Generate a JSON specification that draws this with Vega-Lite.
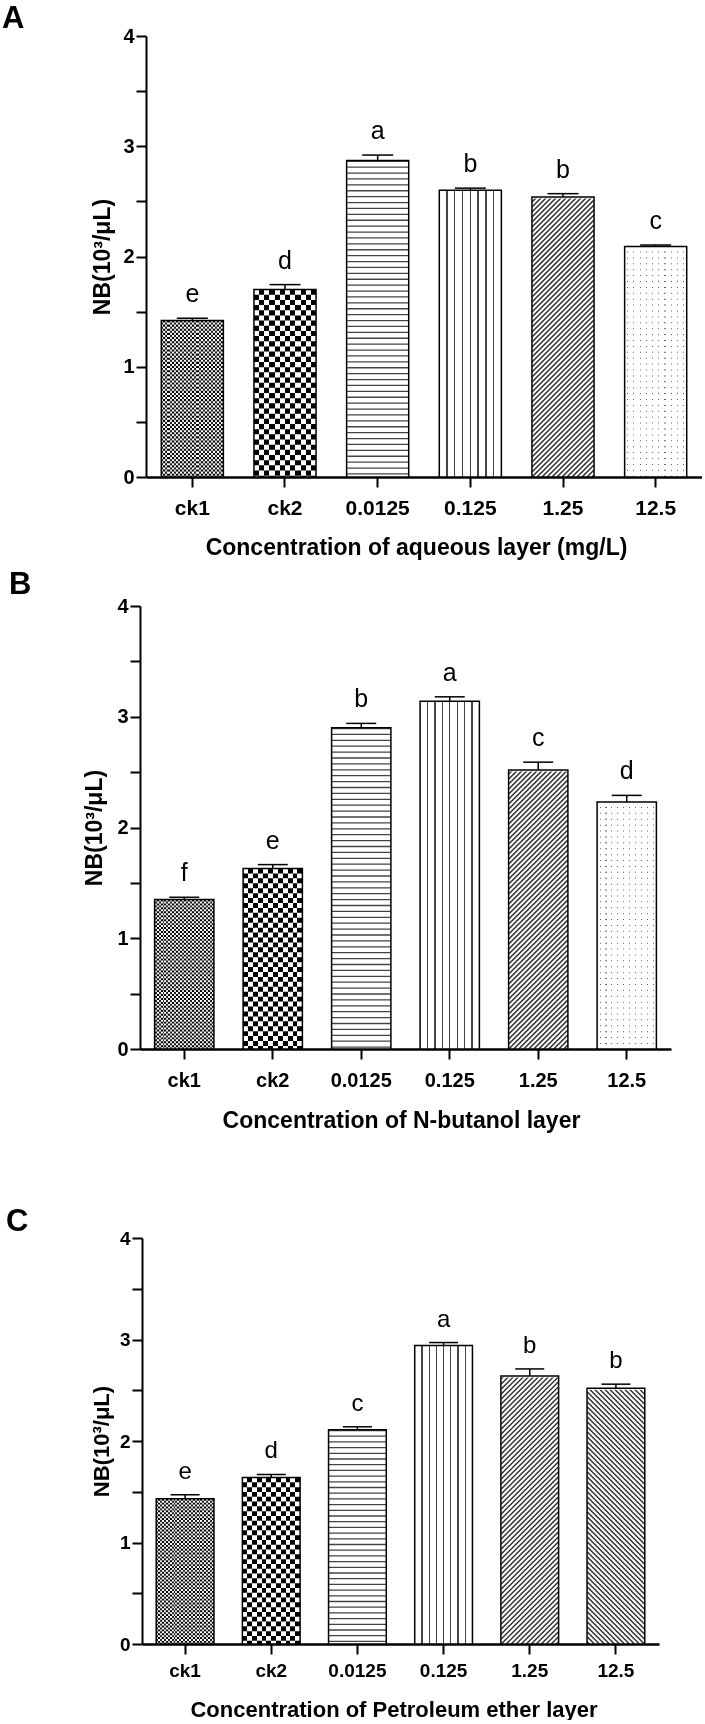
{
"$schema":"https://vega.github.io/schema/vega-lite/v6.json",
"padding":{"left":2,"top":3,"right":0,"bottom":0},
"datasets":{
"A":[{"group":"ck1","mean":1.42,"upper":1.44,"letter":"e"},{"group":"ck2","mean":1.70,"upper":1.745,"letter":"d"},{"group":"0.0125","mean":2.87,"upper":2.92,"letter":"a"},{"group":"0.125","mean":2.60,"upper":2.62,"letter":"b"},{"group":"1.25","mean":2.54,"upper":2.57,"letter":"b"},{"group":"12.5","mean":2.09,"upper":2.105,"letter":"c"}],
"B":[{"group":"ck1","mean":1.35,"upper":1.37,"letter":"f"},{"group":"ck2","mean":1.63,"upper":1.665,"letter":"e"},{"group":"0.0125","mean":2.90,"upper":2.94,"letter":"b"},{"group":"0.125","mean":3.14,"upper":3.18,"letter":"a"},{"group":"1.25","mean":2.52,"upper":2.59,"letter":"c"},{"group":"12.5","mean":2.23,"upper":2.29,"letter":"d"}],
"C":[{"group":"ck1","mean":1.43,"upper":1.47,"letter":"e"},{"group":"ck2","mean":1.64,"upper":1.67,"letter":"d"},{"group":"0.0125","mean":2.11,"upper":2.14,"letter":"c"},{"group":"0.125","mean":2.94,"upper":2.97,"letter":"a"},{"group":"1.25","mean":2.64,"upper":2.71,"letter":"b"},{"group":"12.5","mean":2.52,"upper":2.56,"letter":"b"}]
},
"config":{"view":{"stroke":null},"font":"Liberation Sans",
"axis":{"domainColor":"black","tickColor":"black","labelColor":"black","titleColor":"black","labelFont":"Liberation Sans","titleFont":"Liberation Sans","labelFontWeight":"bold","titleFontWeight":"bold","grid":false,"domainWidth":2,"tickWidth":2},
"title":{"font":"Liberation Sans","fontWeight":"bold","color":"black","anchor":"start","frame":"group","fontSize":31}},
"concat":[
{"concat":[
{"data":{"name":"A"},"width":556,"height":441,
"title":{"text":"A","dx":-144,"offset":-9},
"encoding":{"x":{"field":"group","type":"nominal","sort":null,"scale":{"paddingInner":0.33,"paddingOuter":0.165},"axis":{"title":"Concentration of aqueous layer (mg/L)","titleX":270,"labelAngle":0,"labelFontSize":21,"titleFontSize":23,"tickSize":10,"labelPadding":10,"titlePadding":18,"domainWidth":2.5}}},
"layer":[
{"mark":{"type":"bar","fill":"white"},"encoding":{"y":{"field":"mean","type":"quantitative","scale":{"domain":[0,4]},"axis":{"title":"NB(10³/μL)","values":[0,0.25,0.5,0.75,1,1.25,1.5,1.75,2,2.25,2.5,2.75,3,3.25,3.5,3.75,4],"labelExpr":"datum.value % 1 === 0 ? format(datum.value, 'd') : ''","labelOverlap":false,"labelFlush":false,"labelFontSize":20,"titleFontSize":23,"tickSize":10,"labelPadding":2,"titlePadding":8,"encode":{"ticks":{"update":{"x2":{"signal":"datum.value % 1 === 0 ? -10 : -6"}}}}}}}},
{"transform":[{"filter":"datum.group === 'ck1'"}],"layer":[
{"mark":{"type":"bar","fill":{"gradient":"linear","x1":0,"y1":0,"x2":1,"y2":0,"stops":[{"offset":0,"color":"#222"},{"offset":0.0333,"color":"#222"},{"offset":0.0333,"color":"#fff"},{"offset":0.0667,"color":"#fff"},{"offset":0.0667,"color":"#222"},{"offset":0.1,"color":"#222"},{"offset":0.1,"color":"#fff"},{"offset":0.1333,"color":"#fff"},{"offset":0.1333,"color":"#222"},{"offset":0.1667,"color":"#222"},{"offset":0.1667,"color":"#fff"},{"offset":0.2,"color":"#fff"},{"offset":0.2,"color":"#222"},{"offset":0.2333,"color":"#222"},{"offset":0.2333,"color":"#fff"},{"offset":0.2667,"color":"#fff"},{"offset":0.2667,"color":"#222"},{"offset":0.3,"color":"#222"},{"offset":0.3,"color":"#fff"},{"offset":0.3333,"color":"#fff"},{"offset":0.3333,"color":"#222"},{"offset":0.3667,"color":"#222"},{"offset":0.3667,"color":"#fff"},{"offset":0.4,"color":"#fff"},{"offset":0.4,"color":"#222"},{"offset":0.4333,"color":"#222"},{"offset":0.4333,"color":"#fff"},{"offset":0.4667,"color":"#fff"},{"offset":0.4667,"color":"#222"},{"offset":0.5,"color":"#222"},{"offset":0.5,"color":"#fff"},{"offset":0.5333,"color":"#fff"},{"offset":0.5333,"color":"#222"},{"offset":0.5667,"color":"#222"},{"offset":0.5667,"color":"#fff"},{"offset":0.6,"color":"#fff"},{"offset":0.6,"color":"#222"},{"offset":0.6333,"color":"#222"},{"offset":0.6333,"color":"#fff"},{"offset":0.6667,"color":"#fff"},{"offset":0.6667,"color":"#222"},{"offset":0.7,"color":"#222"},{"offset":0.7,"color":"#fff"},{"offset":0.7333,"color":"#fff"},{"offset":0.7333,"color":"#222"},{"offset":0.7667,"color":"#222"},{"offset":0.7667,"color":"#fff"},{"offset":0.8,"color":"#fff"},{"offset":0.8,"color":"#222"},{"offset":0.8333,"color":"#222"},{"offset":0.8333,"color":"#fff"},{"offset":0.8667,"color":"#fff"},{"offset":0.8667,"color":"#222"},{"offset":0.9,"color":"#222"},{"offset":0.9,"color":"#fff"},{"offset":0.9333,"color":"#fff"},{"offset":0.9333,"color":"#222"},{"offset":0.9667,"color":"#222"},{"offset":0.9667,"color":"#fff"},{"offset":1,"color":"#fff"}]}},"encoding":{"y":{"field":"mean","type":"quantitative","title":"NB(10³/μL)"}}},
{"mark":{"type":"rule","stroke":"white","strokeWidth":62,"strokeDash":[2.07,2.07],"strokeCap":"butt","blend":"difference"},"encoding":{"y":{"field":"mean","type":"quantitative","title":"NB(10³/μL)"},"y2":{"datum":0}}}]},
{"transform":[{"filter":"datum.group === 'ck2'"}],"layer":[
{"mark":{"type":"bar","fill":{"gradient":"linear","x1":0,"y1":0,"x2":1,"y2":0,"stops":[{"offset":0,"color":"#000"},{"offset":0.0833,"color":"#000"},{"offset":0.0833,"color":"#fff"},{"offset":0.1667,"color":"#fff"},{"offset":0.1667,"color":"#000"},{"offset":0.25,"color":"#000"},{"offset":0.25,"color":"#fff"},{"offset":0.3333,"color":"#fff"},{"offset":0.3333,"color":"#000"},{"offset":0.4167,"color":"#000"},{"offset":0.4167,"color":"#fff"},{"offset":0.5,"color":"#fff"},{"offset":0.5,"color":"#000"},{"offset":0.5833,"color":"#000"},{"offset":0.5833,"color":"#fff"},{"offset":0.6667,"color":"#fff"},{"offset":0.6667,"color":"#000"},{"offset":0.75,"color":"#000"},{"offset":0.75,"color":"#fff"},{"offset":0.8333,"color":"#fff"},{"offset":0.8333,"color":"#000"},{"offset":0.9167,"color":"#000"},{"offset":0.9167,"color":"#fff"},{"offset":1,"color":"#fff"}]}},"encoding":{"y":{"field":"mean","type":"quantitative","title":"NB(10³/μL)"}}},
{"mark":{"type":"rule","stroke":"white","strokeWidth":62,"strokeDash":[5.17,5.17],"strokeCap":"butt","blend":"difference"},"encoding":{"y":{"field":"mean","type":"quantitative","title":"NB(10³/μL)"},"y2":{"datum":0}}}]},
{"transform":[{"filter":"datum.group === '0.0125'"}],"mark":{"type":"rule","stroke":"#444","strokeWidth":61,"strokeDash":[1.3,4.6],"strokeCap":"butt"},"encoding":{"y":{"field":"mean","type":"quantitative","title":"NB(10³/μL)"},"y2":{"datum":0}}},
{"transform":[{"filter":"datum.group === '0.125'"}],"mark":{"type":"bar","fill":{"gradient":"linear","x1":0,"y1":0,"x2":1,"y2":0,"stops":[{"offset":0,"color":"#fff"},{"offset":0.114,"color":"#fff"},{"offset":0.114,"color":"#444"},{"offset":0.136,"color":"#444"},{"offset":0.136,"color":"#fff"},{"offset":0.239,"color":"#fff"},{"offset":0.239,"color":"#444"},{"offset":0.261,"color":"#444"},{"offset":0.261,"color":"#fff"},{"offset":0.364,"color":"#fff"},{"offset":0.364,"color":"#444"},{"offset":0.386,"color":"#444"},{"offset":0.386,"color":"#fff"},{"offset":0.489,"color":"#fff"},{"offset":0.489,"color":"#444"},{"offset":0.511,"color":"#444"},{"offset":0.511,"color":"#fff"},{"offset":0.614,"color":"#fff"},{"offset":0.614,"color":"#444"},{"offset":0.636,"color":"#444"},{"offset":0.636,"color":"#fff"},{"offset":0.739,"color":"#fff"},{"offset":0.739,"color":"#444"},{"offset":0.761,"color":"#444"},{"offset":0.761,"color":"#fff"},{"offset":0.864,"color":"#fff"},{"offset":0.864,"color":"#444"},{"offset":0.886,"color":"#444"},{"offset":0.886,"color":"#fff"},{"offset":1,"color":"#fff"}]}},"encoding":{"y":{"field":"mean","type":"quantitative","title":"NB(10³/μL)"}}},
{"transform":[{"filter":"datum.group === '1.25'"}],"layer":[
{"mark":{"type":"point","shape":"M29,0l2,-2M24,0l7,-7M19,0l12,-12M14,0l17,-17M9,0l22,-22M4,0l27,-27M-1,0l32,-32M-6,0l37,-37M-11,0l42,-42M-16,0l47,-47M-21,0l52,-52M-26,0l57,-57M-31,0l62,-62m-62,57l62,-62m-62,57l62,-62m-62,57l62,-62m-62,57l62,-62m-62,57l62,-62m-62,57l62,-62m-62,57l62,-62m-62,57l62,-62m-62,57l62,-62m-62,57l62,-62m-62,57l62,-62m-62,57l62,-62m-62,57l62,-62m-62,57l62,-62m-62,57l62,-62m-62,57l62,-62m-62,57l62,-62m-62,57l62,-62m-62,57l62,-62m-62,57l62,-62m-62,57l62,-62m-62,57l62,-62m-62,57l62,-62m-62,57l62,-62m-62,57l62,-62m-62,57l62,-62m-62,57l62,-62m-62,57l62,-62m-62,57l62,-62m-62,57l62,-62m-62,57l62,-62m-62,57l62,-62m-62,57l62,-62m-62,57l62,-62m-62,57l62,-62m-62,57l62,-62m-62,57l62,-62m-62,57l62,-62m-62,57l62,-62m-62,57l62,-62m-62,57l62,-62m-62,57l62,-62m-62,57l62,-62m-62,57l62,-62m-62,57l62,-62m-62,57l62,-62m-62,57l62,-62m-62,57l62,-62m-62,57l62,-62m-62,57l62,-62m-62,57l62,-62m-62,57l62,-62m-62,57l62,-62m-62,57l62,-62m-62,57l62,-62m-62,57l62,-62m-62,57l62,-62m-62,57l62,-62m-62,57l62,-62","size":4,"filled":false,"stroke":"#333","strokeWidth":1.6,"opacity":1,"strokeCap":"butt"},"encoding":{"y":{"datum":0}}},
{"mark":{"type":"bar","fill":"white","stroke":"white","strokeWidth":3},"encoding":{"y":{"field":"mean","type":"quantitative","title":"NB(10³/μL)"},"y2":{"datum":4}}}]},
{"transform":[{"filter":"datum.group === '12.5'"}],"layer":[
{"mark":{"type":"bar","fill":{"gradient":"linear","x1":0,"y1":0,"x2":1,"y2":0,"stops":[{"offset":0,"color":"#fff"},{"offset":0.041,"color":"#fff"},{"offset":0.041,"color":"#666"},{"offset":0.059,"color":"#666"},{"offset":0.059,"color":"#fff"},{"offset":0.141,"color":"#fff"},{"offset":0.141,"color":"#666"},{"offset":0.159,"color":"#666"},{"offset":0.159,"color":"#fff"},{"offset":0.241,"color":"#fff"},{"offset":0.241,"color":"#666"},{"offset":0.259,"color":"#666"},{"offset":0.259,"color":"#fff"},{"offset":0.341,"color":"#fff"},{"offset":0.341,"color":"#666"},{"offset":0.359,"color":"#666"},{"offset":0.359,"color":"#fff"},{"offset":0.441,"color":"#fff"},{"offset":0.441,"color":"#666"},{"offset":0.459,"color":"#666"},{"offset":0.459,"color":"#fff"},{"offset":0.541,"color":"#fff"},{"offset":0.541,"color":"#666"},{"offset":0.559,"color":"#666"},{"offset":0.559,"color":"#fff"},{"offset":0.641,"color":"#fff"},{"offset":0.641,"color":"#666"},{"offset":0.659,"color":"#666"},{"offset":0.659,"color":"#fff"},{"offset":0.741,"color":"#fff"},{"offset":0.741,"color":"#666"},{"offset":0.759,"color":"#666"},{"offset":0.759,"color":"#fff"},{"offset":0.841,"color":"#fff"},{"offset":0.841,"color":"#666"},{"offset":0.859,"color":"#666"},{"offset":0.859,"color":"#fff"},{"offset":0.941,"color":"#fff"},{"offset":0.941,"color":"#666"},{"offset":0.959,"color":"#666"},{"offset":0.959,"color":"#fff"},{"offset":1,"color":"#fff"}]}},"encoding":{"y":{"field":"mean","type":"quantitative","title":"NB(10³/μL)"}}},
{"mark":{"type":"rule","stroke":"white","strokeWidth":60,"strokeDash":[4.9,1],"strokeCap":"butt"},"encoding":{"y":{"field":"mean","type":"quantitative","title":"NB(10³/μL)"},"y2":{"datum":0}}}]},
{"mark":{"type":"bar","fillOpacity":0,"stroke":"black","strokeWidth":1.5},"encoding":{"y":{"field":"mean","type":"quantitative","title":"NB(10³/μL)"}}},
{"mark":{"type":"rule","color":"black","strokeWidth":1.5},"encoding":{"y":{"field":"mean","type":"quantitative","title":"NB(10³/μL)"},"y2":{"field":"upper"}}},
{"mark":{"type":"tick","color":"black","thickness":1.5,"size":31,"orient":"horizontal","opacity":1},"encoding":{"y":{"field":"upper","type":"quantitative","title":"NB(10³/μL)"}}},
{"mark":{"type":"text","dy":-16,"fontSize":25,"font":"Liberation Sans","baseline":"alphabetic","color":"black"},"encoding":{"y":{"field":"upper","type":"quantitative","title":"NB(10³/μL)"},"text":{"field":"letter"}}}
]},
{"data":{"name":"B"},"width":525,"height":443,
"title":{"text":"B","dx":-137,"offset":-5},
"encoding":{"x":{"field":"group","type":"nominal","sort":null,"scale":{"paddingInner":0.33,"paddingOuter":0.165,"range":[-6,525]},"axis":{"title":"Concentration of N-butanol layer","titleX":255,"labelAngle":0,"labelFontSize":20,"titleFontSize":23,"tickSize":10,"labelPadding":11,"titlePadding":19,"domainWidth":2.5}}},
"layer":[
{"mark":{"type":"bar","fill":"white"},"encoding":{"y":{"field":"mean","type":"quantitative","scale":{"domain":[0,4]},"axis":{"title":"NB(10³/μL)","offset":6,"values":[0,0.25,0.5,0.75,1,1.25,1.5,1.75,2,2.25,2.5,2.75,3,3.25,3.5,3.75,4],"labelExpr":"datum.value % 1 === 0 ? format(datum.value, 'd') : ''","labelOverlap":false,"labelFlush":false,"labelFontSize":20,"titleFontSize":23,"tickSize":10,"labelPadding":2,"titlePadding":10,"encode":{"ticks":{"update":{"x2":{"signal":"datum.value % 1 === 0 ? -10 : -6"}}}}}}}},
{"transform":[{"filter":"datum.group === 'ck1'"}],"layer":[
{"mark":{"type":"bar","fill":{"gradient":"linear","x1":0,"y1":0,"x2":1,"y2":0,"stops":[{"offset":0,"color":"#222"},{"offset":0.0333,"color":"#222"},{"offset":0.0333,"color":"#fff"},{"offset":0.0667,"color":"#fff"},{"offset":0.0667,"color":"#222"},{"offset":0.1,"color":"#222"},{"offset":0.1,"color":"#fff"},{"offset":0.1333,"color":"#fff"},{"offset":0.1333,"color":"#222"},{"offset":0.1667,"color":"#222"},{"offset":0.1667,"color":"#fff"},{"offset":0.2,"color":"#fff"},{"offset":0.2,"color":"#222"},{"offset":0.2333,"color":"#222"},{"offset":0.2333,"color":"#fff"},{"offset":0.2667,"color":"#fff"},{"offset":0.2667,"color":"#222"},{"offset":0.3,"color":"#222"},{"offset":0.3,"color":"#fff"},{"offset":0.3333,"color":"#fff"},{"offset":0.3333,"color":"#222"},{"offset":0.3667,"color":"#222"},{"offset":0.3667,"color":"#fff"},{"offset":0.4,"color":"#fff"},{"offset":0.4,"color":"#222"},{"offset":0.4333,"color":"#222"},{"offset":0.4333,"color":"#fff"},{"offset":0.4667,"color":"#fff"},{"offset":0.4667,"color":"#222"},{"offset":0.5,"color":"#222"},{"offset":0.5,"color":"#fff"},{"offset":0.5333,"color":"#fff"},{"offset":0.5333,"color":"#222"},{"offset":0.5667,"color":"#222"},{"offset":0.5667,"color":"#fff"},{"offset":0.6,"color":"#fff"},{"offset":0.6,"color":"#222"},{"offset":0.6333,"color":"#222"},{"offset":0.6333,"color":"#fff"},{"offset":0.6667,"color":"#fff"},{"offset":0.6667,"color":"#222"},{"offset":0.7,"color":"#222"},{"offset":0.7,"color":"#fff"},{"offset":0.7333,"color":"#fff"},{"offset":0.7333,"color":"#222"},{"offset":0.7667,"color":"#222"},{"offset":0.7667,"color":"#fff"},{"offset":0.8,"color":"#fff"},{"offset":0.8,"color":"#222"},{"offset":0.8333,"color":"#222"},{"offset":0.8333,"color":"#fff"},{"offset":0.8667,"color":"#fff"},{"offset":0.8667,"color":"#222"},{"offset":0.9,"color":"#222"},{"offset":0.9,"color":"#fff"},{"offset":0.9333,"color":"#fff"},{"offset":0.9333,"color":"#222"},{"offset":0.9667,"color":"#222"},{"offset":0.9667,"color":"#fff"},{"offset":1,"color":"#fff"}]}},"encoding":{"y":{"field":"mean","type":"quantitative","title":"NB(10³/μL)"}}},
{"mark":{"type":"rule","stroke":"white","strokeWidth":59.2,"strokeDash":[1.97,1.97],"strokeCap":"butt","blend":"difference"},"encoding":{"y":{"field":"mean","type":"quantitative","title":"NB(10³/μL)"},"y2":{"datum":0}}}]},
{"transform":[{"filter":"datum.group === 'ck2'"}],"layer":[
{"mark":{"type":"bar","fill":{"gradient":"linear","x1":0,"y1":0,"x2":1,"y2":0,"stops":[{"offset":0,"color":"#000"},{"offset":0.0833,"color":"#000"},{"offset":0.0833,"color":"#fff"},{"offset":0.1667,"color":"#fff"},{"offset":0.1667,"color":"#000"},{"offset":0.25,"color":"#000"},{"offset":0.25,"color":"#fff"},{"offset":0.3333,"color":"#fff"},{"offset":0.3333,"color":"#000"},{"offset":0.4167,"color":"#000"},{"offset":0.4167,"color":"#fff"},{"offset":0.5,"color":"#fff"},{"offset":0.5,"color":"#000"},{"offset":0.5833,"color":"#000"},{"offset":0.5833,"color":"#fff"},{"offset":0.6667,"color":"#fff"},{"offset":0.6667,"color":"#000"},{"offset":0.75,"color":"#000"},{"offset":0.75,"color":"#fff"},{"offset":0.8333,"color":"#fff"},{"offset":0.8333,"color":"#000"},{"offset":0.9167,"color":"#000"},{"offset":0.9167,"color":"#fff"},{"offset":1,"color":"#fff"}]}},"encoding":{"y":{"field":"mean","type":"quantitative","title":"NB(10³/μL)"}}},
{"mark":{"type":"rule","stroke":"white","strokeWidth":59.2,"strokeDash":[4.93,4.93],"strokeCap":"butt","blend":"difference"},"encoding":{"y":{"field":"mean","type":"quantitative","title":"NB(10³/μL)"},"y2":{"datum":0}}}]},
{"transform":[{"filter":"datum.group === '0.0125'"}],"mark":{"type":"rule","stroke":"#444","strokeWidth":58.5,"strokeDash":[1.3,4.6],"strokeCap":"butt"},"encoding":{"y":{"field":"mean","type":"quantitative","title":"NB(10³/μL)"},"y2":{"datum":0}}},
{"transform":[{"filter":"datum.group === '0.125'"}],"mark":{"type":"bar","fill":{"gradient":"linear","x1":0,"y1":0,"x2":1,"y2":0,"stops":[{"offset":0,"color":"#fff"},{"offset":0.114,"color":"#fff"},{"offset":0.114,"color":"#444"},{"offset":0.136,"color":"#444"},{"offset":0.136,"color":"#fff"},{"offset":0.239,"color":"#fff"},{"offset":0.239,"color":"#444"},{"offset":0.261,"color":"#444"},{"offset":0.261,"color":"#fff"},{"offset":0.364,"color":"#fff"},{"offset":0.364,"color":"#444"},{"offset":0.386,"color":"#444"},{"offset":0.386,"color":"#fff"},{"offset":0.489,"color":"#fff"},{"offset":0.489,"color":"#444"},{"offset":0.511,"color":"#444"},{"offset":0.511,"color":"#fff"},{"offset":0.614,"color":"#fff"},{"offset":0.614,"color":"#444"},{"offset":0.636,"color":"#444"},{"offset":0.636,"color":"#fff"},{"offset":0.739,"color":"#fff"},{"offset":0.739,"color":"#444"},{"offset":0.761,"color":"#444"},{"offset":0.761,"color":"#fff"},{"offset":0.864,"color":"#fff"},{"offset":0.864,"color":"#444"},{"offset":0.886,"color":"#444"},{"offset":0.886,"color":"#fff"},{"offset":1,"color":"#fff"}]}},"encoding":{"y":{"field":"mean","type":"quantitative","title":"NB(10³/μL)"}}},
{"transform":[{"filter":"datum.group === '1.25'"}],"layer":[
{"mark":{"type":"point","shape":"M25.5,0l4,-4M20.5,0l9,-9M15.5,0l14,-14M10.5,0l19,-19M5.5,0l24,-24M0.5,0l29,-29M-4.5,0l34,-34M-9.5,0l39,-39M-14.5,0l44,-44M-19.5,0l49,-49M-24.5,0l54,-54M-29.5,0l59,-59m-59,54l59,-59m-59,54l59,-59m-59,54l59,-59m-59,54l59,-59m-59,54l59,-59m-59,54l59,-59m-59,54l59,-59m-59,54l59,-59m-59,54l59,-59m-59,54l59,-59m-59,54l59,-59m-59,54l59,-59m-59,54l59,-59m-59,54l59,-59m-59,54l59,-59m-59,54l59,-59m-59,54l59,-59m-59,54l59,-59m-59,54l59,-59m-59,54l59,-59m-59,54l59,-59m-59,54l59,-59m-59,54l59,-59m-59,54l59,-59m-59,54l59,-59m-59,54l59,-59m-59,54l59,-59m-59,54l59,-59m-59,54l59,-59m-59,54l59,-59m-59,54l59,-59m-59,54l59,-59m-59,54l59,-59m-59,54l59,-59m-59,54l59,-59m-59,54l59,-59m-59,54l59,-59m-59,54l59,-59m-59,54l59,-59m-59,54l59,-59m-59,54l59,-59m-59,54l59,-59m-59,54l59,-59m-59,54l59,-59m-59,54l59,-59m-59,54l59,-59m-59,54l59,-59m-59,54l59,-59m-59,54l59,-59m-59,54l59,-59m-59,54l59,-59m-59,54l59,-59m-59,54l59,-59m-59,54l59,-59m-59,54l59,-59m-59,54l59,-59m-59,54l59,-59","size":4,"filled":false,"stroke":"#333","strokeWidth":1.6,"opacity":1,"strokeCap":"butt"},"encoding":{"y":{"datum":0}}},
{"mark":{"type":"bar","fill":"white","stroke":"white","strokeWidth":3},"encoding":{"y":{"field":"mean","type":"quantitative","title":"NB(10³/μL)"},"y2":{"datum":4}}}]},
{"transform":[{"filter":"datum.group === '12.5'"}],"layer":[
{"mark":{"type":"bar","fill":{"gradient":"linear","x1":0,"y1":0,"x2":1,"y2":0,"stops":[{"offset":0,"color":"#fff"},{"offset":0.041,"color":"#fff"},{"offset":0.041,"color":"#666"},{"offset":0.059,"color":"#666"},{"offset":0.059,"color":"#fff"},{"offset":0.141,"color":"#fff"},{"offset":0.141,"color":"#666"},{"offset":0.159,"color":"#666"},{"offset":0.159,"color":"#fff"},{"offset":0.241,"color":"#fff"},{"offset":0.241,"color":"#666"},{"offset":0.259,"color":"#666"},{"offset":0.259,"color":"#fff"},{"offset":0.341,"color":"#fff"},{"offset":0.341,"color":"#666"},{"offset":0.359,"color":"#666"},{"offset":0.359,"color":"#fff"},{"offset":0.441,"color":"#fff"},{"offset":0.441,"color":"#666"},{"offset":0.459,"color":"#666"},{"offset":0.459,"color":"#fff"},{"offset":0.541,"color":"#fff"},{"offset":0.541,"color":"#666"},{"offset":0.559,"color":"#666"},{"offset":0.559,"color":"#fff"},{"offset":0.641,"color":"#fff"},{"offset":0.641,"color":"#666"},{"offset":0.659,"color":"#666"},{"offset":0.659,"color":"#fff"},{"offset":0.741,"color":"#fff"},{"offset":0.741,"color":"#666"},{"offset":0.759,"color":"#666"},{"offset":0.759,"color":"#fff"},{"offset":0.841,"color":"#fff"},{"offset":0.841,"color":"#666"},{"offset":0.859,"color":"#666"},{"offset":0.859,"color":"#fff"},{"offset":0.941,"color":"#fff"},{"offset":0.941,"color":"#666"},{"offset":0.959,"color":"#666"},{"offset":0.959,"color":"#fff"},{"offset":1,"color":"#fff"}]}},"encoding":{"y":{"field":"mean","type":"quantitative","title":"NB(10³/μL)"}}},
{"mark":{"type":"rule","stroke":"white","strokeWidth":57.5,"strokeDash":[4.9,1],"strokeCap":"butt"},"encoding":{"y":{"field":"mean","type":"quantitative","title":"NB(10³/μL)"},"y2":{"datum":0}}}]},
{"mark":{"type":"bar","fillOpacity":0,"stroke":"black","strokeWidth":1.5},"encoding":{"y":{"field":"mean","type":"quantitative","title":"NB(10³/μL)"}}},
{"mark":{"type":"rule","color":"black","strokeWidth":1.5},"encoding":{"y":{"field":"mean","type":"quantitative","title":"NB(10³/μL)"},"y2":{"field":"upper"}}},
{"mark":{"type":"tick","color":"black","thickness":1.5,"size":30,"orient":"horizontal","opacity":1},"encoding":{"y":{"field":"upper","type":"quantitative","title":"NB(10³/μL)"}}},
{"mark":{"type":"text","dy":-16,"fontSize":25,"font":"Liberation Sans","baseline":"alphabetic","color":"black"},"encoding":{"y":{"field":"upper","type":"quantitative","title":"NB(10³/μL)"},"text":{"field":"letter"}}}
]}
],"columns":1,"spacing":10,"align":"none"},
{"data":{"name":"C"},"width":513,"height":406,
"title":{"text":"C","dx":-140,"offset":-9},
"encoding":{"x":{"field":"group","type":"nominal","sort":null,"scale":{"paddingInner":0.33,"paddingOuter":0.165,"range":[-4,513]},"axis":{"title":"Concentration of Petroleum ether layer","titleX":247.5,"labelAngle":0,"labelFontSize":19,"titleFontSize":22,"tickSize":10,"labelPadding":7,"titlePadding":19,"domainWidth":2.5}}},
"layer":[
{"mark":{"type":"bar","fill":"white"},"encoding":{"y":{"field":"mean","type":"quantitative","scale":{"domain":[0,4]},"axis":{"title":"NB(10³/μL)","offset":4,"values":[0,0.25,0.5,0.75,1,1.25,1.5,1.75,2,2.25,2.5,2.75,3,3.25,3.5,3.75,4],"labelExpr":"datum.value % 1 === 0 ? format(datum.value, 'd') : ''","labelOverlap":false,"labelFlush":false,"labelFontSize":19,"titleFontSize":22,"tickSize":10,"labelPadding":2,"titlePadding":6,"encode":{"ticks":{"update":{"x2":{"signal":"datum.value % 1 === 0 ? -10 : -6"}}}}}}}},
{"transform":[{"filter":"datum.group === 'ck1'"}],"layer":[
{"mark":{"type":"bar","fill":{"gradient":"linear","x1":0,"y1":0,"x2":1,"y2":0,"stops":[{"offset":0,"color":"#222"},{"offset":0.0333,"color":"#222"},{"offset":0.0333,"color":"#fff"},{"offset":0.0667,"color":"#fff"},{"offset":0.0667,"color":"#222"},{"offset":0.1,"color":"#222"},{"offset":0.1,"color":"#fff"},{"offset":0.1333,"color":"#fff"},{"offset":0.1333,"color":"#222"},{"offset":0.1667,"color":"#222"},{"offset":0.1667,"color":"#fff"},{"offset":0.2,"color":"#fff"},{"offset":0.2,"color":"#222"},{"offset":0.2333,"color":"#222"},{"offset":0.2333,"color":"#fff"},{"offset":0.2667,"color":"#fff"},{"offset":0.2667,"color":"#222"},{"offset":0.3,"color":"#222"},{"offset":0.3,"color":"#fff"},{"offset":0.3333,"color":"#fff"},{"offset":0.3333,"color":"#222"},{"offset":0.3667,"color":"#222"},{"offset":0.3667,"color":"#fff"},{"offset":0.4,"color":"#fff"},{"offset":0.4,"color":"#222"},{"offset":0.4333,"color":"#222"},{"offset":0.4333,"color":"#fff"},{"offset":0.4667,"color":"#fff"},{"offset":0.4667,"color":"#222"},{"offset":0.5,"color":"#222"},{"offset":0.5,"color":"#fff"},{"offset":0.5333,"color":"#fff"},{"offset":0.5333,"color":"#222"},{"offset":0.5667,"color":"#222"},{"offset":0.5667,"color":"#fff"},{"offset":0.6,"color":"#fff"},{"offset":0.6,"color":"#222"},{"offset":0.6333,"color":"#222"},{"offset":0.6333,"color":"#fff"},{"offset":0.6667,"color":"#fff"},{"offset":0.6667,"color":"#222"},{"offset":0.7,"color":"#222"},{"offset":0.7,"color":"#fff"},{"offset":0.7333,"color":"#fff"},{"offset":0.7333,"color":"#222"},{"offset":0.7667,"color":"#222"},{"offset":0.7667,"color":"#fff"},{"offset":0.8,"color":"#fff"},{"offset":0.8,"color":"#222"},{"offset":0.8333,"color":"#222"},{"offset":0.8333,"color":"#fff"},{"offset":0.8667,"color":"#fff"},{"offset":0.8667,"color":"#222"},{"offset":0.9,"color":"#222"},{"offset":0.9,"color":"#fff"},{"offset":0.9333,"color":"#fff"},{"offset":0.9333,"color":"#222"},{"offset":0.9667,"color":"#222"},{"offset":0.9667,"color":"#fff"},{"offset":1,"color":"#fff"}]}},"encoding":{"y":{"field":"mean","type":"quantitative","title":"NB(10³/μL)"}}},
{"mark":{"type":"rule","stroke":"white","strokeWidth":57.6,"strokeDash":[1.92,1.92],"strokeCap":"butt","blend":"difference"},"encoding":{"y":{"field":"mean","type":"quantitative","title":"NB(10³/μL)"},"y2":{"datum":0}}}]},
{"transform":[{"filter":"datum.group === 'ck2'"}],"layer":[
{"mark":{"type":"bar","fill":{"gradient":"linear","x1":0,"y1":0,"x2":1,"y2":0,"stops":[{"offset":0,"color":"#000"},{"offset":0.0833,"color":"#000"},{"offset":0.0833,"color":"#fff"},{"offset":0.1667,"color":"#fff"},{"offset":0.1667,"color":"#000"},{"offset":0.25,"color":"#000"},{"offset":0.25,"color":"#fff"},{"offset":0.3333,"color":"#fff"},{"offset":0.3333,"color":"#000"},{"offset":0.4167,"color":"#000"},{"offset":0.4167,"color":"#fff"},{"offset":0.5,"color":"#fff"},{"offset":0.5,"color":"#000"},{"offset":0.5833,"color":"#000"},{"offset":0.5833,"color":"#fff"},{"offset":0.6667,"color":"#fff"},{"offset":0.6667,"color":"#000"},{"offset":0.75,"color":"#000"},{"offset":0.75,"color":"#fff"},{"offset":0.8333,"color":"#fff"},{"offset":0.8333,"color":"#000"},{"offset":0.9167,"color":"#000"},{"offset":0.9167,"color":"#fff"},{"offset":1,"color":"#fff"}]}},"encoding":{"y":{"field":"mean","type":"quantitative","title":"NB(10³/μL)"}}},
{"mark":{"type":"rule","stroke":"white","strokeWidth":57.6,"strokeDash":[4.8,4.8],"strokeCap":"butt","blend":"difference"},"encoding":{"y":{"field":"mean","type":"quantitative","title":"NB(10³/μL)"},"y2":{"datum":0}}}]},
{"transform":[{"filter":"datum.group === '0.0125'"}],"mark":{"type":"rule","stroke":"#444","strokeWidth":57,"strokeDash":[1.3,4.4],"strokeCap":"butt"},"encoding":{"y":{"field":"mean","type":"quantitative","title":"NB(10³/μL)"},"y2":{"datum":0}}},
{"transform":[{"filter":"datum.group === '0.125'"}],"mark":{"type":"bar","fill":{"gradient":"linear","x1":0,"y1":0,"x2":1,"y2":0,"stops":[{"offset":0,"color":"#fff"},{"offset":0.114,"color":"#fff"},{"offset":0.114,"color":"#444"},{"offset":0.136,"color":"#444"},{"offset":0.136,"color":"#fff"},{"offset":0.239,"color":"#fff"},{"offset":0.239,"color":"#444"},{"offset":0.261,"color":"#444"},{"offset":0.261,"color":"#fff"},{"offset":0.364,"color":"#fff"},{"offset":0.364,"color":"#444"},{"offset":0.386,"color":"#444"},{"offset":0.386,"color":"#fff"},{"offset":0.489,"color":"#fff"},{"offset":0.489,"color":"#444"},{"offset":0.511,"color":"#444"},{"offset":0.511,"color":"#fff"},{"offset":0.614,"color":"#fff"},{"offset":0.614,"color":"#444"},{"offset":0.636,"color":"#444"},{"offset":0.636,"color":"#fff"},{"offset":0.739,"color":"#fff"},{"offset":0.739,"color":"#444"},{"offset":0.761,"color":"#444"},{"offset":0.761,"color":"#fff"},{"offset":0.864,"color":"#fff"},{"offset":0.864,"color":"#444"},{"offset":0.886,"color":"#444"},{"offset":0.886,"color":"#fff"},{"offset":1,"color":"#fff"}]}},"encoding":{"y":{"field":"mean","type":"quantitative","title":"NB(10³/μL)"}}},
{"transform":[{"filter":"datum.group === '1.25'"}],"layer":[
{"mark":{"type":"point","shape":"M26.5,0l2,-2M21.5,0l7,-7M16.5,0l12,-12M11.5,0l17,-17M6.5,0l22,-22M1.5,0l27,-27M-3.5,0l32,-32M-8.5,0l37,-37M-13.5,0l42,-42M-18.5,0l47,-47M-23.5,0l52,-52M-28.5,0l57,-57m-57,52l57,-57m-57,52l57,-57m-57,52l57,-57m-57,52l57,-57m-57,52l57,-57m-57,52l57,-57m-57,52l57,-57m-57,52l57,-57m-57,52l57,-57m-57,52l57,-57m-57,52l57,-57m-57,52l57,-57m-57,52l57,-57m-57,52l57,-57m-57,52l57,-57m-57,52l57,-57m-57,52l57,-57m-57,52l57,-57m-57,52l57,-57m-57,52l57,-57m-57,52l57,-57m-57,52l57,-57m-57,52l57,-57m-57,52l57,-57m-57,52l57,-57m-57,52l57,-57m-57,52l57,-57m-57,52l57,-57m-57,52l57,-57m-57,52l57,-57m-57,52l57,-57m-57,52l57,-57m-57,52l57,-57m-57,52l57,-57m-57,52l57,-57m-57,52l57,-57m-57,52l57,-57m-57,52l57,-57m-57,52l57,-57m-57,52l57,-57m-57,52l57,-57m-57,52l57,-57m-57,52l57,-57m-57,52l57,-57m-57,52l57,-57m-57,52l57,-57m-57,52l57,-57m-57,52l57,-57m-57,52l57,-57m-57,52l57,-57m-57,52l57,-57m-57,52l57,-57m-57,52l57,-57m-57,52l57,-57","size":4,"filled":false,"stroke":"#333","strokeWidth":1.5,"opacity":1,"strokeCap":"butt"},"encoding":{"y":{"datum":0}}},
{"mark":{"type":"bar","fill":"white","stroke":"white","strokeWidth":3},"encoding":{"y":{"field":"mean","type":"quantitative","title":"NB(10³/μL)"},"y2":{"datum":4}}}]},
{"transform":[{"filter":"datum.group === '12.5'"}],"layer":[
{"mark":{"type":"point","shape":"M-26.5,0l-2,-2M-21.5,0l-7,-7M-16.5,0l-12,-12M-11.5,0l-17,-17M-6.5,0l-22,-22M-1.5,0l-27,-27M3.5,0l-32,-32M8.5,0l-37,-37M13.5,0l-42,-42M18.5,0l-47,-47M23.5,0l-52,-52M28.5,0l-57,-57m57,52l-57,-57m57,52l-57,-57m57,52l-57,-57m57,52l-57,-57m57,52l-57,-57m57,52l-57,-57m57,52l-57,-57m57,52l-57,-57m57,52l-57,-57m57,52l-57,-57m57,52l-57,-57m57,52l-57,-57m57,52l-57,-57m57,52l-57,-57m57,52l-57,-57m57,52l-57,-57m57,52l-57,-57m57,52l-57,-57m57,52l-57,-57m57,52l-57,-57m57,52l-57,-57m57,52l-57,-57m57,52l-57,-57m57,52l-57,-57m57,52l-57,-57m57,52l-57,-57m57,52l-57,-57m57,52l-57,-57m57,52l-57,-57m57,52l-57,-57m57,52l-57,-57m57,52l-57,-57m57,52l-57,-57m57,52l-57,-57m57,52l-57,-57m57,52l-57,-57m57,52l-57,-57m57,52l-57,-57m57,52l-57,-57m57,52l-57,-57m57,52l-57,-57m57,52l-57,-57m57,52l-57,-57m57,52l-57,-57m57,52l-57,-57m57,52l-57,-57m57,52l-57,-57m57,52l-57,-57m57,52l-57,-57m57,52l-57,-57m57,52l-57,-57m57,52l-57,-57m57,52l-57,-57m57,52l-57,-57m57,52l-57,-57","size":4,"filled":false,"stroke":"#333","strokeWidth":1.5,"opacity":1,"strokeCap":"butt"},"encoding":{"y":{"datum":0}}},
{"mark":{"type":"bar","fill":"white","stroke":"white","strokeWidth":3},"encoding":{"y":{"field":"mean","type":"quantitative","title":"NB(10³/μL)"},"y2":{"datum":4}}}]},
{"mark":{"type":"bar","fillOpacity":0,"stroke":"black","strokeWidth":1.5},"encoding":{"y":{"field":"mean","type":"quantitative","title":"NB(10³/μL)"}}},
{"mark":{"type":"rule","color":"black","strokeWidth":1.5},"encoding":{"y":{"field":"mean","type":"quantitative","title":"NB(10³/μL)"},"y2":{"field":"upper"}}},
{"mark":{"type":"tick","color":"black","thickness":1.5,"size":29,"orient":"horizontal","opacity":1},"encoding":{"y":{"field":"upper","type":"quantitative","title":"NB(10³/μL)"}}},
{"mark":{"type":"text","dy":-16,"fontSize":24,"font":"Liberation Sans","baseline":"alphabetic","color":"black"},"encoding":{"y":{"field":"upper","type":"quantitative","title":"NB(10³/μL)"},"text":{"field":"letter"}}}
]}
],
"columns":1,"spacing":74,"align":"none"
}
